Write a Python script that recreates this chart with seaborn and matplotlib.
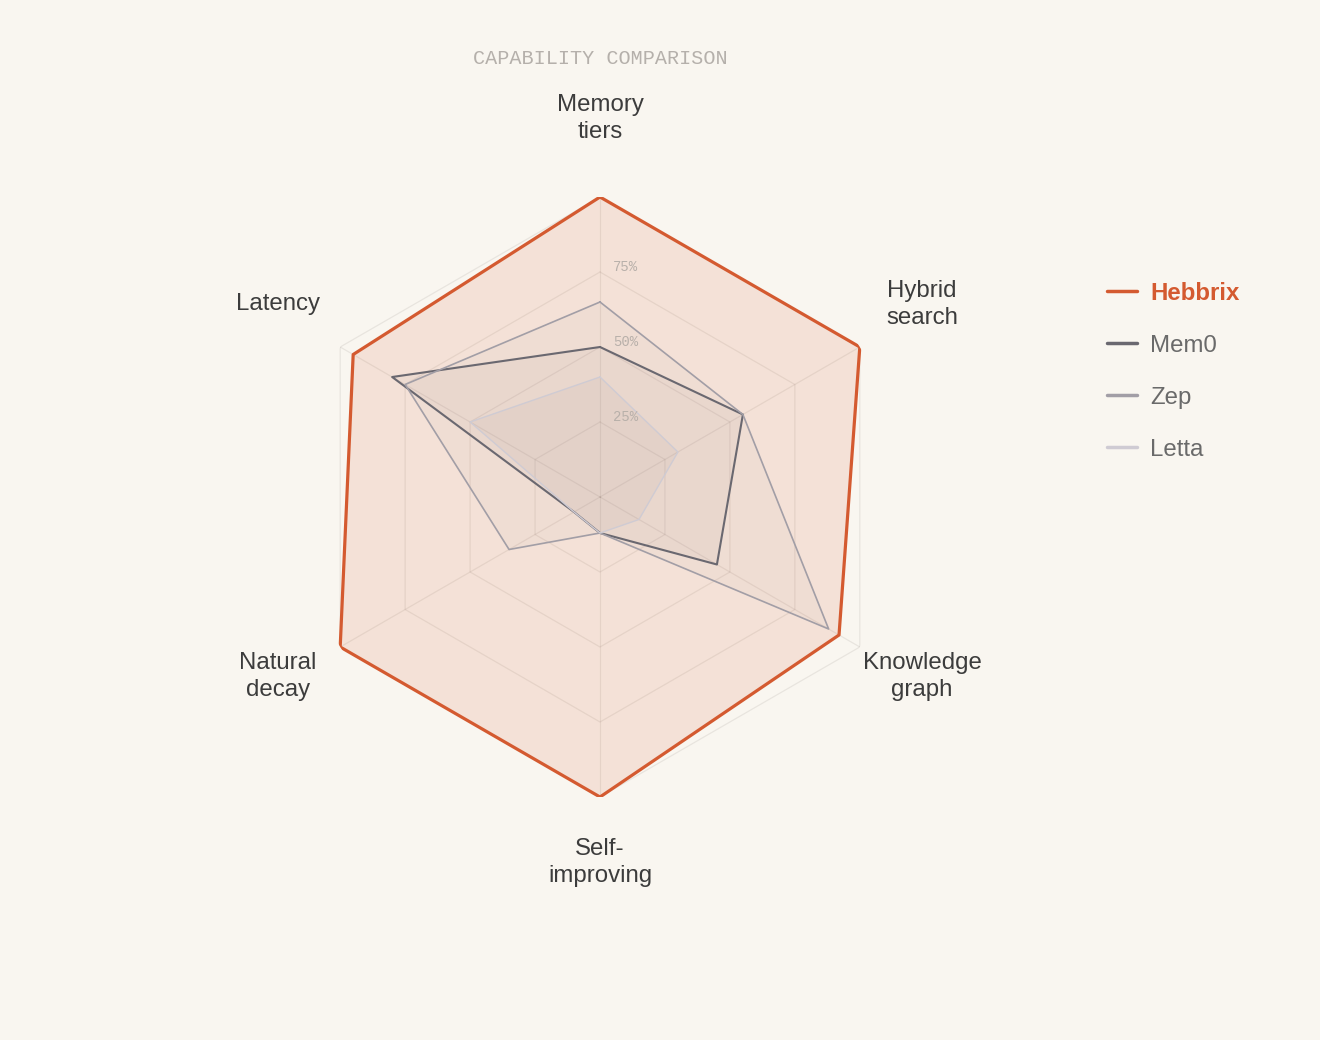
import numpy as np
import matplotlib
matplotlib.use("Agg")
import matplotlib.pyplot as plt
import seaborn as sns
import pandas as pd
from matplotlib.lines import Line2D

# ---- data ----
axes_labels = ["Memory\ntiers", "Hybrid\nsearch", "Knowledge\ngraph",
               "Self-\nimproving", "Natural\ndecay", "Latency"]
series_names = ["Hebbrix", "Mem0", "Zep", "Letta"]
hebbrix = [100, 100, 92, 100, 100, 95]
mem0 = [50, 55, 45, 12, 10, 80]
zep = [65, 55, 88, 12, 35, 75]
letta = [40, 30, 15, 12, 10, 50]
grid_levels = [25, 50, 75, 100]
tick_levels = [25, 50, 75]
tick_labels = ["25%", "50%", "75%"]
title = "CAPABILITY COMPARISON"

BG = "#f9f6f0"
colors = {"Hebbrix": "#d45a30", "Mem0": "#6a6870", "Zep": "#a29ea6", "Letta": "#cfcbd3"}
widths = {"Hebbrix": 2.3, "Mem0": 1.5, "Zep": 1.2, "Letta": 1.0}
fill_alpha = {"Hebbrix": 0.13, "Mem0": 0.06, "Zep": 0.04, "Letta": 0.06}

sns.set_theme(style="white")
plt.rcParams["font.family"] = ["Liberation Sans", "DejaVu Sans"]

fig = plt.figure(figsize=(13.2, 10.4), dpi=100, facecolor=BG)
ax = fig.add_axes([300 / 1320, 243 / 1040, 600 / 1320, 600 / 1040], projection="polar")
ax.set_facecolor("none")
ax.set_theta_zero_location("N")
ax.set_theta_direction(-1)
ax.set_ylim(0, 100)
ax.grid(False)
ax.spines["polar"].set_visible(False)
ax.set_xticks([])
ax.set_yticks([])

n = len(axes_labels)
theta = np.arange(n) * 2 * np.pi / n
theta_c = np.append(theta, theta[0])

# grid rings and spokes
grid_col = (0.35, 0.3, 0.28, 0.10)
for lv in grid_levels:
    ax.plot(theta_c, [lv] * (n + 1), color=grid_col, lw=0.9, zorder=1)
for t in theta:
    ax.plot([t, t], [0, 100], color=grid_col, lw=0.9, zorder=1)

# data
data = {"Hebbrix": hebbrix, "Mem0": mem0, "Zep": zep, "Letta": letta}
for i, name in enumerate(series_names):
    vals = np.append(data[name], data[name][0])
    df = pd.DataFrame({"theta": theta_c, "r": vals})
    fc = colors[name] if name == "Hebbrix" else "#8a7f80"
    ax.fill(theta_c, vals, color=fc, alpha=fill_alpha[name], lw=0, zorder=2 + i)
    sns.lineplot(data=df, x="theta", y="r", sort=False, estimator=None,
                 color=colors[name], lw=widths[name], ax=ax, zorder=6 + i)
ax.set_xlabel("")
ax.set_ylabel("")
ax.set_xticks([])
ax.set_yticks([])
ax.set_ylim(0, 100)

# tick labels
for lv, lab in zip(tick_levels, tick_labels):
    ax.annotate(lab, xy=(0, lv), xytext=(9.4, 3.6), textcoords="offset points",
                ha="left", va="center", fontsize=10, color="#b8b0aa",
                family=["Liberation Mono", "DejaVu Sans Mono"], zorder=12)

# axis labels
for t, lab in zip(theta, axes_labels):
    ax.annotate(lab, xy=(t, 124), xytext=(0, 5), textcoords="offset points",
                ha="center", va="center", fontsize=17.3,
                color="#3c3c3c", linespacing=1.3, annotation_clip=False)

# title
fig.text(600 / 1320, 1 - 58 / 1040, title, ha="center", va="center",
         fontsize=14.5, color="#b5b0ab", family=["Liberation Mono", "DejaVu Sans Mono"])

# legend
handles = [Line2D([0], [0], color=colors[nm], lw=2.5) for nm in series_names]
leg = fig.legend(handles, series_names, loc="upper left",
                 bbox_to_anchor=(1085 / 1320, 1 - 260 / 1040), frameon=False,
                 fontsize=17.3, handlelength=1.25, handletextpad=0.55,
                 labelspacing=1.25)
for txt, nm in zip(leg.get_texts(), series_names):
    if nm == "Hebbrix":
        txt.set_color(colors[nm])
        txt.set_fontweight("bold")
    else:
        txt.set_color("#6a6a6a")

fig.savefig("out.png", dpi=100, facecolor=BG)
